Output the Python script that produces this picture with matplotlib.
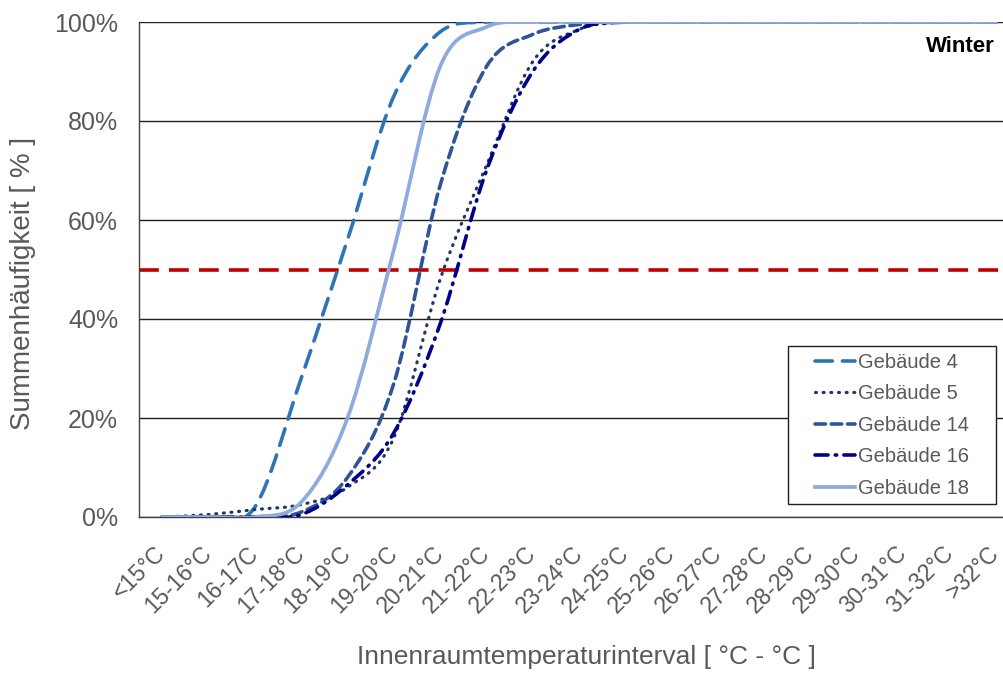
import numpy as np
import matplotlib
matplotlib.use('Agg')
import matplotlib.pyplot as plt
from matplotlib.path import Path
from matplotlib.patches import PathPatch, Rectangle
from matplotlib.lines import Line2D
from matplotlib.ticker import FuncFormatter

plt.rcParams['font.family'] = ['Liberation Sans', 'DejaVu Sans']

# temperature classes
categories = ['<15°C', '15-16°C', '16-17C', '17-18°C', '18-19°C', '19-20°C',
              '20-21°C', '21-22°C', '22-23°C', '23-24°C', '24-25°C', '25-26°C',
              '26-27°C', '27-28°C', '28-29°C', '29-30°C', '30-31°C', '31-32°C',
              '>32°C']

# cumulative frequency in percent per building
geb4 = [0, 0, 2, 28, 56, 85, 98, 100, 100, 100, 100, 100, 100, 100, 100, 100, 100, 100, 100]
geb5 = [0, 0.5, 1.5, 2.5, 6, 16, 48, 71, 92, 98.5, 100, 100, 100, 100, 100, 100, 100, 100, 100]
geb14 = [0, 0, 0, 1, 8, 27, 67, 91, 97.5, 99.5, 100, 100, 100, 100, 100, 100, 100, 100, 100]
geb16 = [0, 0, 0, 0.5, 6.5, 17, 39, 70, 90, 98.5, 100, 100, 100, 100, 100, 100, 100, 100, 100]
geb18 = [0, 0, 0, 3, 20, 54, 91, 99, 100, 100, 100, 100, 100, 100, 100, 100, 100, 100, 100]
median_line = 50


def smooth_path(xs, ys):
    # Catmull-Rom style bezier through the points (like Excel's smoothed lines)
    pts = np.column_stack([xs, ys]).astype(float)
    n = len(pts)
    verts = [pts[0]]
    codes = [Path.MOVETO]
    for i in range(n - 1):
        p0 = pts[max(i - 1, 0)]
        p1 = pts[i]
        p2 = pts[i + 1]
        p3 = pts[min(i + 2, n - 1)]
        verts += [p1 + (p2 - p0) / 6, p2 - (p3 - p1) / 6, p2]
        codes += [Path.CURVE4] * 3
    return Path(verts, codes)


series = [
    ('Gebäude 4', geb4, '#2E75B6', 2.6, (0, (4.8, 2.8))),
    ('Gebäude 5', geb5, '#1F3864', 2.3, (0, (0.3, 2.1))),
    ('Gebäude 14', geb14, '#2F5597', 2.6, (0, (2.9, 1.6))),
    ('Gebäude 16', geb16, '#00008B', 2.6, (0, (3.6, 2.0, 0.4, 2.0))),
    ('Gebäude 18', geb18, '#8FAADC', 2.7, '-'),
]

W, H = 1004, 684
fig = plt.figure(figsize=(W / 100, H / 100), dpi=100)
ax = fig.add_axes([139 / W, 1 - 517 / H, 1 - 139 / W, (517 - 22) / H])

x = np.arange(len(categories))

ax.axhline(median_line, color='#C00000', lw=2.6, linestyle=(0, (5.5, 2.8)), zorder=2)

handles = []
for name, vals, col, lw, ls in series:
    patch = PathPatch(smooth_path(x, vals), facecolor='none', edgecolor=col,
                      lw=lw, linestyle=ls, capstyle='round', zorder=3)
    ax.add_patch(patch)
    handles.append(Line2D([], [], color=col, lw=lw, linestyle=ls,
                          dash_capstyle='round', label=name))

ax.set_xlim(-0.5, 18.17)
ax.set_ylim(0, 100)
ax.set_yticks([0, 20, 40, 60, 80, 100])
ax.yaxis.set_major_formatter(FuncFormatter(lambda v, p: f'{v:.0f}%'))
ax.set_xticks(x)
ax.set_xticklabels(categories, rotation=45, ha='right', va='center',
                   rotation_mode='anchor')
ax.tick_params(length=0, colors='#595959')
ax.tick_params(axis='x', labelsize=16.5, pad=24)
ax.tick_params(axis='y', labelsize=18, pad=15)
ax.yaxis.grid(True, color='#202020', lw=1.0)
ax.set_axisbelow(True)
for side in ['top', 'right']:
    ax.spines[side].set_visible(False)
for side in ['left', 'bottom']:
    ax.spines[side].set_color('#404040')
    ax.spines[side].set_linewidth(1.0)

fig.text(23 / W, 1 - 283 / H, 'Summenhäufigkeit [ % ]', rotation=90,
         ha='center', va='center', fontsize=20, color='#595959')
fig.text(586 / W, 1 - 657 / H, 'Innenraumtemperaturinterval [ °C - °C ]',
         ha='center', va='center', fontsize=19, color='#595959')

fig.text(995 / W, 1 - 46 / H, 'Winter', ha='right', va='center',
         fontsize=16, fontweight='bold', color='black')

# legend box drawn separately so the padding left/right can be wider
fig.patches.append(Rectangle((788 / W, 1 - 504 / H), 208 / W, 158 / H,
                             transform=fig.transFigure, facecolor='white',
                             edgecolor='#202020', lw=1.0, zorder=4))
leg = fig.legend(handles=handles, loc='upper left',
                 bbox_to_anchor=(815 / W, 1 - 353 / H),
                 bbox_transform=fig.transFigure, fontsize=14.5, frameon=False,
                 handlelength=2.0, handletextpad=0.15, labelspacing=0.62,
                 borderpad=0, borderaxespad=0)
leg.set_zorder(5)
for t in leg.get_texts():
    t.set_color('#595959')

fig.savefig('out.png', dpi=100)
